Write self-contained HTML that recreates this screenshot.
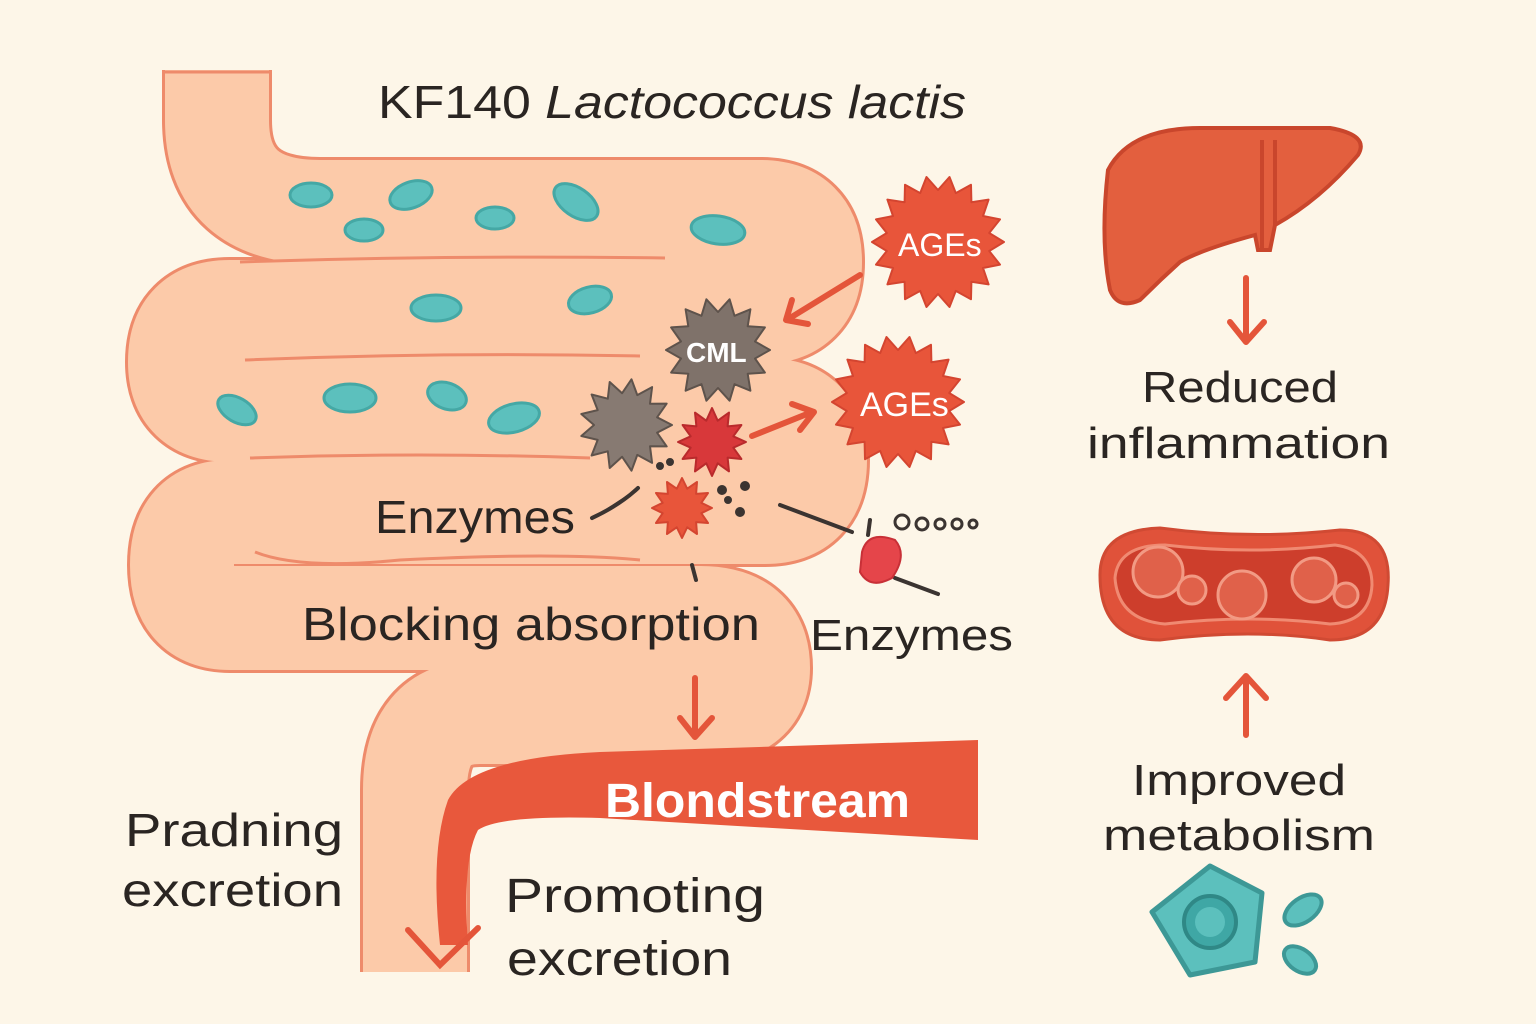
<!DOCTYPE html>
<html><head><meta charset="utf-8"><style>
html,body{margin:0;padding:0;background:#fdf6e8;}
svg{display:block}
text{font-family:"Liberation Sans",sans-serif;fill:#2a2522;}
</style></head><body>
<svg id="s" width="1536" height="1024" viewBox="0 0 1536 1024" xmlns="http://www.w3.org/2000/svg">
<rect width="1536" height="1024" fill="#fdf6e8"/>
<g fill="none" stroke-linejoin="round">
<path d="M217 60 L217 120 Q217 212 320 212 L760 212 Q810 212 810 262 Q810 312 760 312 L230 312 Q180 312 180 362 Q180 410 230 410 L765 410 Q815 410 815 460 Q815 512 765 512 L230 512 Q182 512 182 565 Q182 618 230 618 L700 618 Q758 618 758 668 Q758 712 700 712 L480 712 Q415 712 415 790 L415 972" stroke="#ee8b6b" stroke-width="110"/>
<path d="M217 60 L217 120 Q217 212 320 212 L760 212 Q810 212 810 262 Q810 312 760 312 L230 312 Q180 312 180 362 Q180 410 230 410 L765 410 Q815 410 815 460 Q815 512 765 512 L230 512 Q182 512 182 565 Q182 618 230 618 L700 618 Q758 618 758 668 Q758 712 700 712 L480 712 Q415 712 415 790 L415 972" stroke="#fccaa9" stroke-width="104"/>
</g>
<rect x="150" y="972" width="400" height="60" fill="#fdf6e8"/>
<rect x="100" y="20" width="240" height="50" fill="#fdf6e8"/>
<g stroke="#ee8b6b" stroke-width="3" fill="none">
<path d="M165 72 L270 72"/>
<path d="M240 262 Q450 255 665 258"/>
<path d="M245 360 Q440 352 640 356"/>
<path d="M250 458 Q420 452 590 458"/>
<path d="M255 552 Q300 570 400 560 Q560 552 640 560"/>
</g>
<g fill="#5cc0bd" stroke="#45a8a5" stroke-width="3">
<ellipse cx="311" cy="195" rx="21" ry="12"/>
<ellipse cx="411" cy="195" rx="22" ry="13" transform="rotate(-20 411 195)"/>
<ellipse cx="364" cy="230" rx="19" ry="11"/>
<ellipse cx="495" cy="218" rx="19" ry="11"/>
<ellipse cx="576" cy="202" rx="25" ry="14" transform="rotate(35 576 202)"/>
<ellipse cx="718" cy="230" rx="27" ry="14" transform="rotate(8 718 230)"/>
<ellipse cx="436" cy="308" rx="25" ry="13"/>
<ellipse cx="590" cy="300" rx="22" ry="13" transform="rotate(-15 590 300)"/>
<ellipse cx="237" cy="410" rx="21" ry="12" transform="rotate(30 237 410)"/>
<ellipse cx="350" cy="398" rx="26" ry="14"/>
<ellipse cx="447" cy="396" rx="20" ry="13" transform="rotate(20 447 396)"/>
<ellipse cx="514" cy="418" rx="26" ry="14" transform="rotate(-15 514 418)"/>
</g>
<path d="M978 740 L600 752 Q470 758 448 800 Q430 850 440 945 L468 945 Q462 860 478 830 Q500 815 600 818 L978 840 Z" fill="#e8583c"/>
<path d="M408 930 L440 965 L478 928" fill="none" stroke="#e4553a" stroke-width="6" stroke-linecap="round"/>
<text x="605" y="817" font-size="48" font-weight="bold" textLength="305" lengthAdjust="spacingAndGlyphs" style="fill:#fff">Blondstream</text>
<g stroke="#e4553a" stroke-width="6" fill="none" stroke-linecap="round" stroke-linejoin="round">
<path d="M695 678 L695 735 M680 718 L695 737 L712 718"/>
<path d="M860 275 L790 318 M792 300 L786 320 L808 324"/>
<path d="M752 436 L812 412 M792 404 L814 412 L800 430"/>
<path d="M1246 278 L1246 340 M1230 322 L1246 342 L1264 322"/>
<path d="M1246 735 L1246 678 M1226 698 L1246 676 L1266 698"/>
</g>
<g id="stars"></g>
<text x="686" y="362" font-size="28" font-weight="bold" style="fill:#fff">CML</text>
<text x="898" y="256" font-size="32" style="fill:#fff">AGEs</text>
<text x="860" y="416" font-size="34" style="fill:#fff">AGEs</text>
<g stroke="#3b3431" stroke-width="4" stroke-linecap="round" fill="#3b3431">
<path d="M592 518 Q620 505 638 488"/>
<path d="M780 505 L852 532"/>
<path d="M895 578 L938 594"/>
<path d="M870 520 L868 535"/>
<path d="M692 565 L696 580"/>
<circle cx="660" cy="466" r="2"/><circle cx="670" cy="462" r="2"/><circle cx="722" cy="490" r="3"/><circle cx="745" cy="486" r="3"/><circle cx="740" cy="512" r="3"/><circle cx="728" cy="500" r="2"/>
</g>
<g fill="none" stroke="#3b3431" stroke-width="3">
<circle cx="902" cy="522" r="7"/><circle cx="922" cy="524" r="6"/><circle cx="940" cy="524" r="5"/><circle cx="957" cy="524" r="5"/><circle cx="973" cy="524" r="4"/>
</g>
<path d="M862 552 Q868 530 895 540 Q908 555 892 578 Q870 590 860 572 Z" fill="#e5454a" stroke="#c83037" stroke-width="2"/>
<path d="M1108 170 Q1130 128 1200 128 L1330 128 Q1370 135 1358 155 Q1320 200 1275 225 L1270 250 L1258 250 L1255 235 Q1200 250 1180 262 Q1160 280 1140 300 Q1118 310 1110 290 Q1100 240 1108 170 Z" fill="#e35f3e" stroke="#c9462c" stroke-width="4"/>
<path d="M1262 140 L1262 250 M1275 140 L1275 225" stroke="#c9462c" stroke-width="4" fill="none"/>
<path d="M1100 575 Q1100 530 1160 528 Q1250 540 1340 530 Q1392 530 1388 585 Q1385 640 1330 640 Q1250 628 1160 640 Q1100 640 1100 575 Z" fill="#e0523a" stroke="#d04a33" stroke-width="3"/>
<path d="M1115 578 Q1118 545 1165 545 Q1250 555 1335 545 Q1372 550 1372 585 Q1370 622 1330 624 Q1250 614 1165 624 Q1118 620 1115 578 Z" fill="#cd3e2c" stroke="#f08a72" stroke-width="3"/>
<g fill="#e0614a" stroke="#f29a84" stroke-width="3">
<circle cx="1158" cy="572" r="25"/><circle cx="1192" cy="590" r="14"/><circle cx="1242" cy="595" r="24"/><circle cx="1314" cy="580" r="22"/><circle cx="1346" cy="595" r="12"/>
</g>
<path d="M1210 866 L1262 893 L1255 962 L1190 975 L1152 912 Z" fill="#5cc0bd" stroke="#3d9896" stroke-width="5" stroke-linejoin="round"/>
<circle cx="1210" cy="922" r="26" fill="#3fa7a5" stroke="#2f8886" stroke-width="4"/>
<circle cx="1210" cy="922" r="15" fill="#5cc0bd"/>
<ellipse cx="1303" cy="910" rx="21" ry="12" transform="rotate(-35 1303 910)" fill="#5cc0bd" stroke="#3d9896" stroke-width="4"/>
<ellipse cx="1300" cy="960" rx="18" ry="11" transform="rotate(35 1300 960)" fill="#5cc0bd" stroke="#3d9896" stroke-width="4"/>
<text x="378" y="118" font-size="46" textLength="588" lengthAdjust="spacingAndGlyphs">KF140 <tspan font-style="italic">Lactococcus lactis</tspan></text>
<text x="375" y="533" font-size="46" textLength="200" lengthAdjust="spacingAndGlyphs">Enzymes</text>
<text x="302" y="640" font-size="46" textLength="458" lengthAdjust="spacingAndGlyphs">Blocking absorption</text>
<text x="810" y="650" font-size="44" textLength="203" lengthAdjust="spacingAndGlyphs">Enzymes</text>
<text x="125" y="846" font-size="46" textLength="218" lengthAdjust="spacingAndGlyphs">Pradning</text>
<text x="122" y="906" font-size="46" textLength="221" lengthAdjust="spacingAndGlyphs">excretion</text>
<text x="505" y="912" font-size="48" textLength="260" lengthAdjust="spacingAndGlyphs">Promoting</text>
<text x="507" y="975" font-size="48" textLength="225" lengthAdjust="spacingAndGlyphs">excretion</text>
<text x="1142" y="402" font-size="44" textLength="196" lengthAdjust="spacingAndGlyphs">Reduced</text>
<text x="1087" y="458" font-size="44" textLength="303" lengthAdjust="spacingAndGlyphs">inflammation</text>
<text x="1132" y="795" font-size="44" textLength="214" lengthAdjust="spacingAndGlyphs">Improved</text>
<text x="1103" y="850" font-size="44" textLength="272" lengthAdjust="spacingAndGlyphs">metabolism</text>
</svg>
<script>
(function(){
var g=document.getElementById('stars');
function star(cx,cy,R,r,n,fill,stroke){
 var p=[];for(var i=0;i<2*n;i++){var a=Math.PI*i/n;var rr=i%2?r:R;p.push((cx+rr*Math.cos(a)).toFixed(1)+','+(cy+rr*Math.sin(a)).toFixed(1));}
 var e=document.createElementNS('http://www.w3.org/2000/svg','polygon');
 e.setAttribute('points',p.join(' '));e.setAttribute('fill',fill);e.setAttribute('stroke',stroke);e.setAttribute('stroke-width','2');e.setAttribute('stroke-linejoin','round');g.appendChild(e);
}
star(938,242,66,52,18,'#e8553a','#d44530');
star(898,402,66,52,18,'#e8553a','#d44530');
star(718,350,52,38,14,'#7f726a','#5e534c');
star(626,425,46,32,13,'#877a72','#5e534c');
star(712,442,34,22,12,'#d8383a','#b92a2c');
star(682,508,30,20,12,'#e8553a','#d44530');
})();
</script>
</body></html>
